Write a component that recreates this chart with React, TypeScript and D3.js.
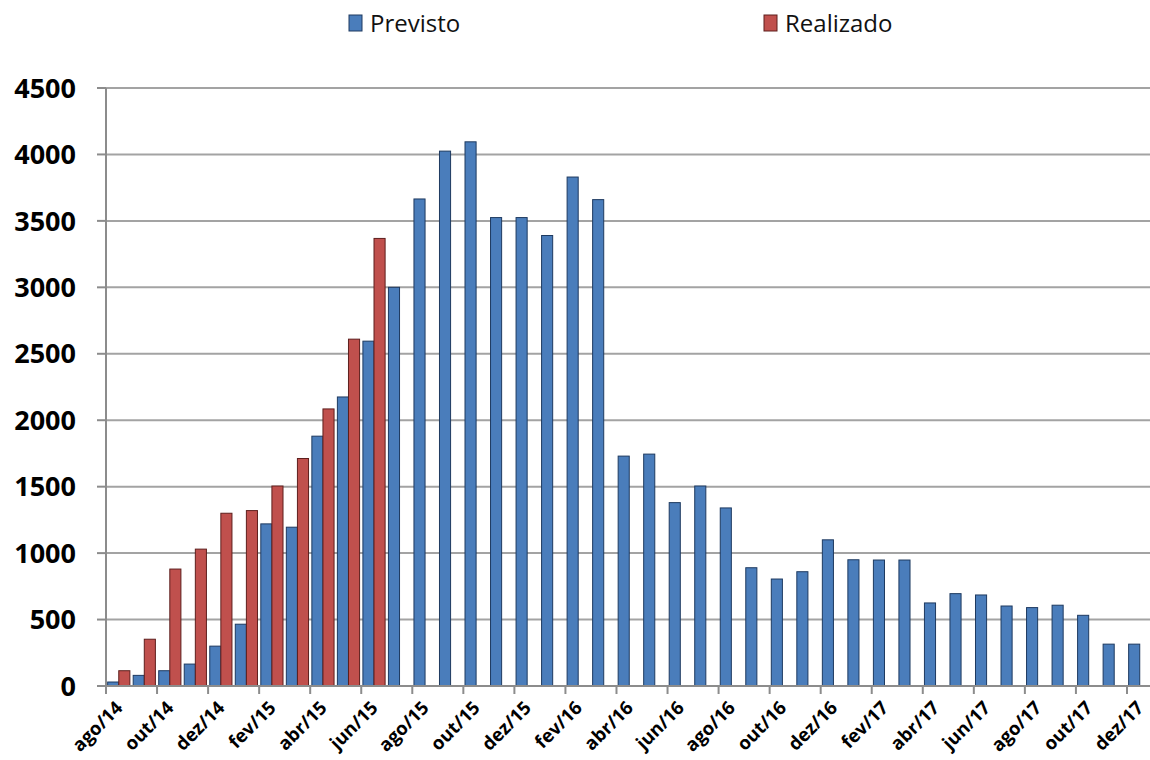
import React from "react";
import * as d3 from "d3";

const months = [
  "ago/14", "set/14", "out/14", "nov/14", "dez/14",
  "jan/15", "fev/15", "mar/15", "abr/15", "mai/15", "jun/15", "jul/15",
  "ago/15", "set/15", "out/15", "nov/15", "dez/15",
  "jan/16", "fev/16", "mar/16", "abr/16", "mai/16", "jun/16", "jul/16",
  "ago/16", "set/16", "out/16", "nov/16", "dez/16",
  "jan/17", "fev/17", "mar/17", "abr/17", "mai/17", "jun/17", "jul/17",
  "ago/17", "set/17", "out/17", "nov/17", "dez/17",
];

const previsto = [
  30, 80, 115, 165, 300,
  465, 1220, 1195, 1880, 2175, 2595, 3000,
  3665, 4025, 4095, 3525, 3525,
  3390, 3830, 3660, 1730, 1745, 1380, 1505,
  1340, 890, 805, 860, 1100,
  950, 948, 948, 625, 695, 685, 602,
  590, 608, 532, 315, 315,
];

// only measured until jun/15
const realizado = [115, 352, 880, 1030, 1300, 1320, 1505, 1712, 2085, 2610, 3368];

const yTicks = [0, 500, 1000, 1500, 2000, 2500, 3000, 3500, 4000, 4500];
const seriesNames = ["Previsto", "Realizado"];

const W = 1150;
const H = 760;
const left = 106;
const right = 1152.5;
const top = 88;
const bottom = 686;

const blue = "#4A7DBB";
const blueEdge = "#1E3A60";
const red = "#C0504D";
const redEdge = "#5E1F1D";

const App = () => {
  const x0 = d3.scaleBand<string>().domain(months).range([left, right]).padding(0);
  const x1 = d3
    .scaleBand<string>()
    .domain(seriesNames)
    .range([0, x0.bandwidth()])
    .paddingInner(0)
    .paddingOuter(0.15);
  const y = d3.scaleLinear().domain([0, 4500]).range([bottom, top]);

  const labelFont = "'Open Sans', sans-serif";

  return (
    <svg
      width={W}
      height={H}
      style={{ position: "fixed", left: 0, top: 0, background: "#fff" }}
    >
      {/* legend */}
      <g fontFamily={labelFont} fontSize={24} fill="#111">
        <rect x={349} y={15} width={13} height={16} fill={blue} stroke={blueEdge} strokeWidth={1} />
        <text x={370} y={32}>{seriesNames[0]}</text>
        <rect x={764} y={15} width={13} height={16} fill={red} stroke={redEdge} strokeWidth={1} />
        <text x={785} y={32}>{seriesNames[1]}</text>
      </g>

      {/* grid lines */}
      {yTicks.slice(1).map((t) => (
        <line
          key={"g" + t}
          x1={left}
          x2={W}
          y1={y(t)}
          y2={y(t)}
          stroke="#A3A3A3"
          strokeWidth={2}
        />
      ))}

      {/* y axis */}
      <line x1={left} x2={left} y1={top} y2={bottom} stroke="#8C8C8C" strokeWidth={2} />
      {yTicks.map((t) => (
        <g key={"y" + t}>
          <line x1={left - 9} x2={left} y1={y(t)} y2={y(t)} stroke="#8C8C8C" strokeWidth={2} />
          <text
            x={76}
            y={y(t)}
            dy="0.36em"
            textAnchor="end"
            fontFamily={labelFont}
            fontWeight="bold"
            fontSize={27}
            fill="#000"
          >
            {t}
          </text>
        </g>
      ))}

      {/* bars */}
      {previsto.map((v, i) => (
        <rect
          key={"p" + i}
          x={(x0(months[i]) ?? 0) + (x1("Previsto") ?? 0)}
          y={y(v)}
          width={x1.bandwidth()}
          height={bottom - y(v)}
          fill={blue}
          stroke={blueEdge}
          strokeWidth={1}
        />
      ))}
      {realizado.map((v, i) => (
        <rect
          key={"r" + i}
          x={(x0(months[i]) ?? 0) + (x1("Realizado") ?? 0)}
          y={y(v)}
          width={x1.bandwidth()}
          height={bottom - y(v)}
          fill={red}
          stroke={redEdge}
          strokeWidth={1}
        />
      ))}

      {/* x axis */}
      <line x1={left} x2={W} y1={bottom} y2={bottom} stroke="#8C8C8C" strokeWidth={2} />
      {months.map((m, i) =>
        i % 2 === 0 ? (
          <g key={"x" + m}>
            <line
              x1={x0(m) ?? 0}
              x2={x0(m) ?? 0}
              y1={bottom}
              y2={bottom + 8}
              stroke="#8C8C8C"
              strokeWidth={2}
            />
            <text
              transform={`translate(${(x0(m) ?? 0) + x0.bandwidth() / 2 + 5},${709}) rotate(-45)`}
              textAnchor="end"
              fontFamily={labelFont}
              fontWeight="bold"
              fontSize={18.5}
              fill="#000"
            >
              {m}
            </text>
          </g>
        ) : null
      )}
    </svg>
  );
};

export default App;
